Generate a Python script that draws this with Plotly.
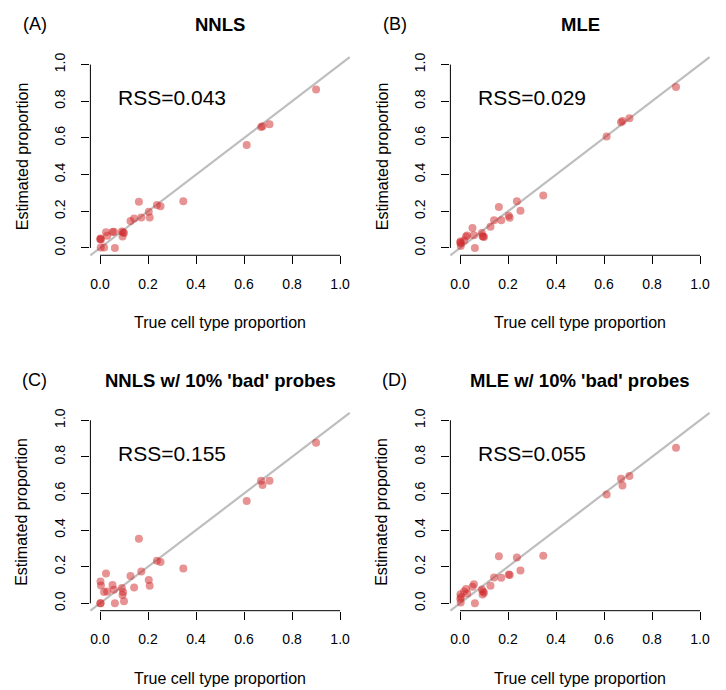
import plotly.graph_objects as go

# ---------------- data ----------------
true_prop = [0.002, 0.004, 0.001, 0.003, 0.017, 0.025, 0.030, 0.052, 0.058, 0.062,
             0.091, 0.094, 0.096, 0.100, 0.127, 0.142, 0.162, 0.172, 0.203, 0.207,
             0.237, 0.252, 0.347, 0.611, 0.671, 0.677, 0.706, 0.900]

est_nnls = [0.052, 0.046, 0.048, 0.003, 0.003, 0.086, 0.067, 0.087, 0.088, 0.000,
            0.090, 0.062, 0.085, 0.082, 0.147, 0.160, 0.252, 0.166, 0.198, 0.166,
            0.234, 0.228, 0.255, 0.561, 0.660, 0.664, 0.675, 0.864]

est_mle = [0.035, 0.025, 0.030, 0.010, 0.040, 0.062, 0.068, 0.109, 0.069, 0.000,
           0.082, 0.064, 0.062, 0.060, 0.115, 0.151, 0.223, 0.151, 0.175, 0.164,
           0.254, 0.203, 0.286, 0.608, 0.685, 0.692, 0.707, 0.877]

est_nnls_bad = [0.120, 0.098, 0.000, 0.000, 0.062, 0.163, 0.065, 0.100, 0.074, 0.000,
                0.084, 0.046, 0.062, 0.011, 0.150, 0.087, 0.353, 0.174, 0.128, 0.096,
                0.232, 0.226, 0.190, 0.559, 0.669, 0.647, 0.669, 0.877]

est_mle_bad = [0.050, 0.035, 0.025, 0.005, 0.065, 0.078, 0.054, 0.090, 0.105, 0.000,
               0.076, 0.049, 0.065, 0.058, 0.096, 0.141, 0.257, 0.140, 0.158, 0.155,
               0.251, 0.180, 0.260, 0.595, 0.680, 0.644, 0.696, 0.850]

panel_est = [est_nnls, est_mle, est_nnls_bad, est_mle_bad]
panel_titles = ["NNLS", "MLE", "NNLS w/ 10% 'bad' probes", "MLE w/ 10% 'bad' probes"]
panel_letters = ["(A)", "(B)", "(C)", "(D)"]
rss_labels = ["RSS=0.043", "RSS=0.029", "RSS=0.155", "RSS=0.055"]
tick_vals = [0.0, 0.2, 0.4, 0.6, 0.8, 1.0]
tick_text = ["0.0", "0.2", "0.4", "0.6", "0.8", "1.0"]
x_label = "True cell type proportion"
y_label = "Estimated proportion"

# ---------------- layout geometry ----------------
W, H = 726, 690
FONT = "Liberation Sans, Arial, Helvetica, sans-serif"
col_px = [(90.4, 349.7), (450.4, 709.6)]   # plot region left/right (px)
row_px = [(52.6, 252.1), (410.9, 610.1)]   # plot region top/bottom (px)


def px_x(v):
    return v / W


def px_y(v):
    return 1 - v / H


fig = go.Figure()
annotations = []
shapes = []
layout_axes = {}

for i in range(4):
    r, c = divmod(i, 2)
    n = "" if i == 0 else str(i + 1)
    xa, ya = "x" + n, "y" + n
    (l, rr), (t, b) = col_px[c], row_px[r]

    fig.add_trace(go.Scatter(
        x=true_prop, y=panel_est[i], mode="markers",
        xaxis=xa, yaxis=ya, showlegend=False, hoverinfo="skip",
        marker=dict(size=8, color="rgba(208,40,42,0.5)", line=dict(width=0)),
    ))

    common = dict(range=[-0.04, 1.04], tickvals=tick_vals, ticktext=tick_text,
                  ticks="outside", ticklen=8, tickwidth=1, tickcolor="black",
                  showgrid=False, zeroline=False, showline=False,
                  tickfont=dict(family=FONT, size=14, color="black"),
                  fixedrange=True)
    layout_axes["xaxis" + n] = dict(common, domain=[px_x(l), px_x(rr)], anchor=ya,
                                    ticklabelstandoff=8)
    layout_axes["yaxis" + n] = dict(common, domain=[px_y(b), px_y(t)], anchor=xa,
                                    tickangle=-90, ticklabelstandoff=11)

    # diagonal y = x across the whole plot region
    shapes.append(dict(type="line", xref=xa + " domain", yref=ya + " domain",
                       x0=0, y0=0, x1=1, y1=1, layer="below",
                       line=dict(color="rgb(190,190,190)", width=2.2)))
    # R-style axis lines spanning only the tick range
    shapes.append(dict(type="line", xref=xa, yref=ya + " domain",
                       x0=0, x1=1, y0=0, y1=0, line=dict(color="black", width=1)))
    shapes.append(dict(type="line", xref=xa + " domain", yref=ya,
                       x0=0, x1=0, y0=0, y1=1, line=dict(color="black", width=1)))

    cx = (l + rr) / 2
    cy = (t + b) / 2
    # title
    annotations.append(dict(text="<b>" + panel_titles[i] + "</b>", xref="paper", yref="paper",
                            x=px_x(cx), y=px_y(t - 32.6), showarrow=False,
                            xanchor="center", yanchor="middle",
                            font=dict(family=FONT, size=18.5, color="black")))
    # panel letter
    annotations.append(dict(text=panel_letters[i], xref="paper", yref="paper",
                            x=px_x(l - 55.9), y=px_y(t - 33.1), showarrow=False,
                            xanchor="center", yanchor="middle",
                            font=dict(family=FONT, size=18, color="black")))
    # x-axis title
    annotations.append(dict(text=x_label, xref="paper", yref="paper",
                            x=px_x(cx), y=px_y(b + 68), showarrow=False,
                            xanchor="center", yanchor="middle",
                            font=dict(family=FONT, size=16, color="black")))
    # y-axis title
    annotations.append(dict(text=y_label, xref="paper", yref="paper",
                            x=px_x(l - 68.4), y=px_y(cy), showarrow=False,
                            xanchor="center", yanchor="middle", textangle=-90,
                            font=dict(family=FONT, size=16, color="black")))
    # RSS label
    annotations.append(dict(text=rss_labels[i], xref=xa, yref=ya,
                            x=0.3, y=0.82, showarrow=False,
                            xanchor="center", yanchor="middle",
                            font=dict(family=FONT, size=21, color="black")))

fig.update_layout(
    width=W, height=H, autosize=False,
    margin=dict(l=0, r=0, t=0, b=0),
    paper_bgcolor="white", plot_bgcolor="white",
    shapes=shapes, annotations=annotations,
    font=dict(family=FONT, color="black"),
    **layout_axes,
)

fig.write_html("out.html", config={"displayModeBar": False},
               post_script="document.body.style.margin='0px';"
                           "document.body.style.overflow='hidden';")
